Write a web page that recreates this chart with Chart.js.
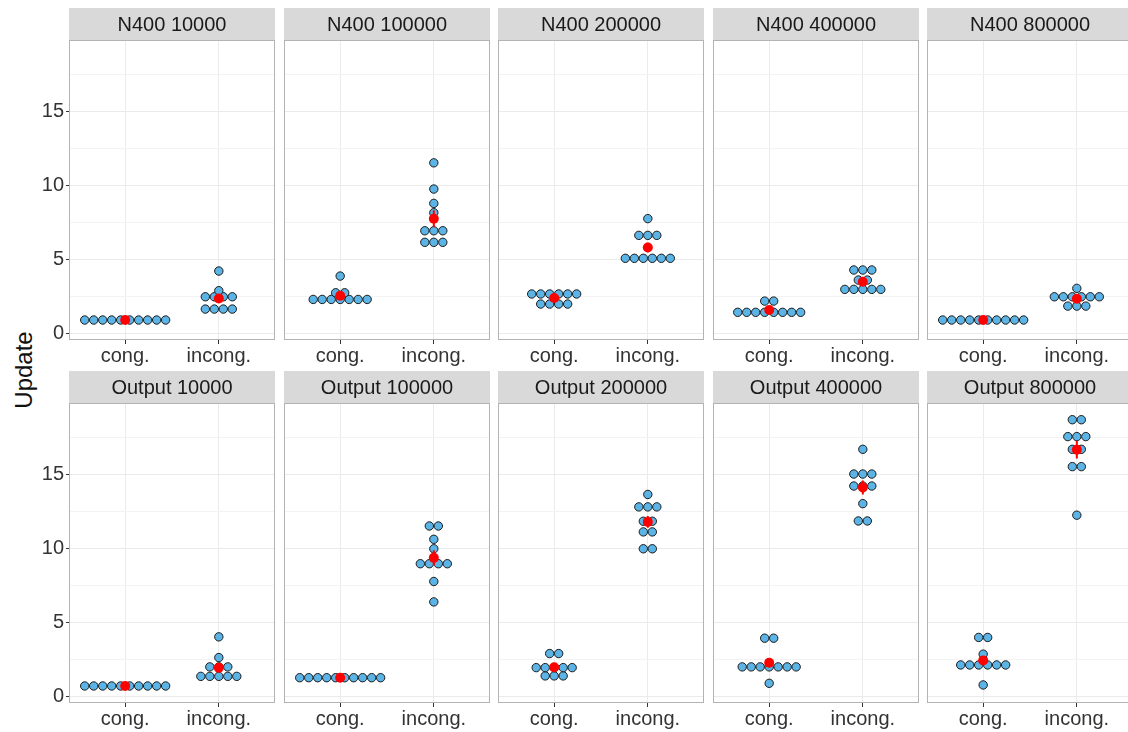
<!DOCTYPE html>
<html>
<head>
<meta charset="utf-8">
<script src="https://cdn.jsdelivr.net/npm/chart.js@4.4.0/dist/chart.umd.min.js"></script>
<style>
html, body { margin: 0; padding: 0; background: #fff; }
#wrap { position: relative; width: 1128px; height: 732px; overflow: hidden; }
#wrap canvas { position: absolute; }
#ytitle {
  position: absolute; left: 24px; top: 370px;
  transform: translate(-50%, -50%) rotate(-90deg);
  font: 24px "Liberation Sans", Arial, sans-serif; color: #111; white-space: nowrap;
}
</style>
</head>
<body>
<div id="wrap"><div id="ytitle">Update</div></div>
<script>
const categories = ["cong.", "incong."];
const panelTitles = [
  "N400 10000", "N400 100000", "N400 200000", "N400 400000", "N400 800000",
  "Output 10000", "Output 100000", "Output 200000", "Output 400000", "Output 800000"
];
const yTickLabels = [0, 5, 10, 15];
const yGridValues = [0, 2.5, 5, 7.5, 10, 12.5, 15, 17.5];

// one value per subject (dot)
const n400_10000_cong = [0.88, 0.88, 0.88, 0.88, 0.88, 0.88, 0.88, 0.88, 0.88, 0.88];
const n400_10000_incong = [1.62, 1.62, 1.62, 1.62, 2.45, 2.45, 2.45, 2.45, 2.86, 4.19];
const n400_100000_cong = [2.27, 2.27, 2.27, 2.27, 2.27, 2.27, 2.27, 2.72, 2.72, 3.85];
const n400_100000_incong = [6.13, 6.13, 6.13, 6.91, 6.91, 6.91, 8.13, 8.76, 9.73, 11.5];
const n400_200000_cong = [1.96, 1.96, 1.96, 1.96, 2.64, 2.64, 2.64, 2.64, 2.64, 2.64];
const n400_200000_incong = [5.05, 5.05, 5.05, 5.05, 5.05, 5.05, 6.6, 6.6, 6.6, 7.73];
const n400_400000_cong = [1.4, 1.4, 1.4, 1.4, 1.4, 1.4, 1.4, 1.4, 2.16, 2.16];
const n400_400000_incong = [2.95, 2.95, 2.95, 2.95, 2.95, 3.58, 3.58, 4.26, 4.26, 4.26];
const n400_800000_cong = [0.88, 0.88, 0.88, 0.88, 0.88, 0.88, 0.88, 0.88, 0.88, 0.88];
const n400_800000_incong = [1.82, 1.82, 1.82, 2.45, 2.45, 2.45, 2.45, 2.45, 2.45, 3.02];
const output_10000_cong = [0.68, 0.68, 0.68, 0.68, 0.68, 0.68, 0.68, 0.68, 0.68, 0.68];
const output_10000_incong = [1.33, 1.33, 1.33, 1.33, 1.33, 1.97, 1.97, 1.97, 2.6, 4.0];
const output_100000_cong = [1.24, 1.24, 1.24, 1.24, 1.24, 1.24, 1.24, 1.24, 1.24, 1.24];
const output_100000_incong = [6.36, 7.74, 8.94, 8.94, 8.94, 8.94, 9.95, 10.59, 11.49, 11.49];
const output_200000_cong = [1.36, 1.36, 1.36, 1.92, 1.92, 1.92, 1.92, 1.92, 2.87, 2.87];
const output_200000_incong = [9.95, 9.95, 11.09, 11.09, 11.81, 11.81, 12.78, 12.78, 12.78, 13.62];
const output_400000_cong = [0.86, 1.97, 1.97, 1.97, 1.97, 1.97, 1.97, 1.97, 3.91, 3.91];
const output_400000_incong = [11.83, 11.83, 13.0, 14.19, 14.19, 14.19, 15.0, 15.0, 15.0, 16.67];
const output_800000_cong = [0.75, 2.1, 2.1, 2.1, 2.1, 2.1, 2.1, 2.83, 3.96, 3.96];
const output_800000_incong = [12.22, 15.5, 15.5, 16.67, 16.67, 17.53, 17.53, 17.53, 18.67, 18.67];

const panelData = [
  [n400_10000_cong, n400_10000_incong],
  [n400_100000_cong, n400_100000_incong],
  [n400_200000_cong, n400_200000_incong],
  [n400_400000_cong, n400_400000_incong],
  [n400_800000_cong, n400_800000_incong],
  [output_10000_cong, output_10000_incong],
  [output_100000_cong, output_100000_incong],
  [output_200000_cong, output_200000_incong],
  [output_400000_cong, output_400000_incong],
  [output_800000_cong, output_800000_incong]
];

const FONT = '"Liberation Sans", Arial, Helvetica, sans-serif';
Chart.defaults.font.family = FONT;

const DOT_STEP = 0.096;   // dot diameter in x units
const STRIP_H = 32;
const PLOT_W = 206;
const AXIS_W = 69;
const XAXIS_H = 28;
const colLeft = [69, 284, 498, 713, 927];
const rowTop = [8, 371];

// centre-stack dots that share a value (like geom_dotplot)
function stackDots(values, cat) {
  const counts = {};
  values.forEach(v => { counts[v] = (counts[v] || 0) + 1; });
  const seen = {};
  return values.slice().sort((a, b) => a - b).map(v => {
    seen[v] = seen[v] === undefined ? 0 : seen[v] + 1;
    return { x: cat + (seen[v] - (counts[v] - 1) / 2) * DOT_STEP, y: v };
  });
}

function meanSe(values) {
  const n = values.length;
  const m = values.reduce((a, b) => a + b, 0) / n;
  const sd = Math.sqrt(values.reduce((a, b) => a + (b - m) ** 2, 0) / (n - 1));
  return [m, sd / Math.sqrt(n)];
}

const stripPlugin = {
  id: 'strip',
  beforeDraw(chart, args, opts) {
    const { ctx, chartArea: a } = chart;
    ctx.save();
    ctx.fillStyle = '#d9d9d9';
    ctx.fillRect(a.left, 0, a.right - a.left, a.top);
    ctx.fillStyle = '#1a1a1a';
    ctx.font = '20px ' + FONT;
    ctx.textAlign = 'center';
    ctx.textBaseline = 'middle';
    ctx.fillText(opts.title, (a.left + a.right) / 2, a.top / 2 + 1);
    ctx.restore();
  },
  afterDraw(chart) {
    const { ctx, chartArea: a } = chart;
    ctx.save();
    ctx.strokeStyle = '#b3b3b3';
    ctx.lineWidth = 1;
    ctx.strokeRect(a.left + 0.5, a.top + 0.5, a.right - a.left - 1, a.bottom - a.top - 1);
    ctx.restore();
  }
};

const wrap = document.getElementById('wrap');

panelData.forEach((groups, p) => {
  const row = Math.floor(p / 5);
  const col = p % 5;
  const canvas = document.createElement('canvas');
  const w = PLOT_W + (col === 0 ? AXIS_W : 0);
  const h = STRIP_H + 300 + XAXIS_H;
  canvas.width = w;
  canvas.height = h;
  canvas.style.width = w + 'px';
  canvas.style.height = h + 'px';
  canvas.style.left = (col === 0 ? 0 : colLeft[col]) + 'px';
  canvas.style.top = rowTop[row] + 'px';
  wrap.appendChild(canvas);

  const dots = [];
  const means = [];
  const bars = [];
  groups.forEach((vals, i) => {
    const cat = i + 1;
    dots.push(...stackDots(vals, cat));
    const [m, se] = meanSe(vals);
    means.push({ x: cat, y: m });
    if (i > 0) bars.push({ x: cat - 0.5, y: null });
    bars.push({ x: cat, y: m - se }, { x: cat, y: m + se });
  });

  new Chart(canvas, {
    type: 'scatter',
    data: {
      datasets: [
        { data: means, order: 1, pointRadius: 5, backgroundColor: '#ff0000', borderWidth: 0 },
        { data: bars, order: 2, showLine: true, spanGaps: false, pointRadius: 0,
          borderColor: '#ff0000', borderWidth: 2 },
        { data: dots, order: 3, pointRadius: 4.2, backgroundColor: '#5bb4e5',
          borderColor: '#1a1a1a', borderWidth: 1 }
      ]
    },
    options: {
      responsive: false,
      animation: false,
      layout: { autoPadding: false, padding: { top: STRIP_H, left: 0, right: 0, bottom: 0 } },
      plugins: {
        legend: { display: false },
        tooltip: { enabled: false },
        strip: { title: panelTitles[p] }
      },
      scales: {
        x: {
          type: 'linear', min: 0.4, max: 2.6,
          afterBuildTicks: s => { s.ticks = [{ value: 1 }, { value: 2 }]; },
          afterFit: s => { s.height = XAXIS_H; },
          ticks: {
            callback: v => categories[v - 1],
            font: { size: 20 }, color: '#333', padding: 0,
            maxRotation: 0, autoSkip: false
          },
          grid: { color: '#ebebeb', lineWidth: 1, tickColor: '#333', tickLength: 4, tickWidth: 1 },
          border: { display: false }
        },
        y: {
          type: 'linear', min: -0.47, max: 19.8,
          afterBuildTicks: s => { s.ticks = yGridValues.map(v => ({ value: v })); },
          afterFit: s => { s.width = col === 0 ? AXIS_W : 0; },
          ticks: {
            display: col === 0,
            callback: v => (yTickLabels.includes(v) ? String(v) : ''),
            font: { size: 20 }, color: '#333', padding: 2, autoSkip: false
          },
          grid: {
            color: c => (yTickLabels.includes(c.tick.value) ? '#ebebeb' : '#f3f3f3'),
            lineWidth: 1,
            drawTicks: col === 0,
            tickColor: c => (yTickLabels.includes(c.tick.value) ? '#333' : 'rgba(0,0,0,0)'),
            tickLength: 3, tickWidth: 1
          },
          border: { display: false }
        }
      }
    },
    plugins: [stripPlugin]
  });
});
</script>
</body>
</html>
